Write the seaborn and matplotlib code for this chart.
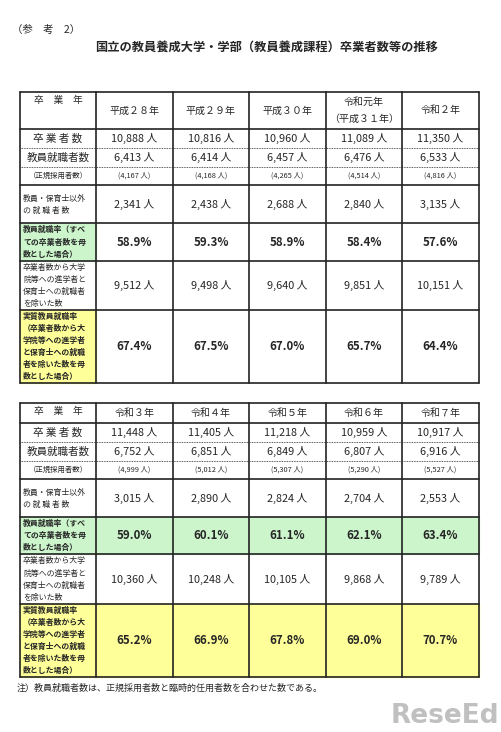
import matplotlib
matplotlib.use("Agg")
import matplotlib.pyplot as plt
import seaborn as sns
from matplotlib.patches import Rectangle

sns.set_theme(style="white")
plt.rcParams['font.family'] = ['Noto Sans CJK JP', 'DejaVu Sans']

years1 = ["平成２８年", "平成２９年", "平成３０年", "令和元年\n（平成３１年）", "令和２年"]
grads1 = ["10,888 人", "10,816 人", "10,960 人", "11,089 人", "11,350 人"]
teach1 = ["6,413 人", "6,414 人", "6,457 人", "6,476 人", "6,533 人"]
regular1 = ["(4,167 人)", "(4,168 人)", "(4,265 人)", "(4,514 人)", "(4,816 人)"]
other1 = ["2,341 人", "2,438 人", "2,688 人", "2,840 人", "3,135 人"]
rate1 = ["58.9%", "59.3%", "58.9%", "58.4%", "57.6%"]
base1 = ["9,512 人", "9,498 人", "9,640 人", "9,851 人", "10,151 人"]
real1 = ["67.4%", "67.5%", "67.0%", "65.7%", "64.4%"]

years2 = ["令和３年", "令和４年", "令和５年", "令和６年", "令和７年"]
grads2 = ["11,448 人", "11,405 人", "11,218 人", "10,959 人", "10,917 人"]
teach2 = ["6,752 人", "6,851 人", "6,849 人", "6,807 人", "6,916 人"]
regular2 = ["(4,999 人)", "(5,012 人)", "(5,307 人)", "(5,290 人)", "(5,527 人)"]
other2 = ["3,015 人", "2,890 人", "2,824 人", "2,704 人", "2,553 人"]
rate2 = ["59.0%", "60.1%", "61.1%", "62.1%", "63.4%"]
base2 = ["10,360 人", "10,248 人", "10,105 人", "9,868 人", "9,789 人"]
real2 = ["65.2%", "66.9%", "67.8%", "69.0%", "70.7%"]

labels = ["卒　業　年", "卒 業 者 数", "教員就職者数", "（正規採用者数）",
          "教員・保育士以外\nの 就 職 者 数", "教員就職率（すべ\nての卒業者数を母\n数とした場合）",
          "卒業者数から大学\n院等への進学者と\n保育士への就職者\nを除いた数",
          "実質教員就職率\n（卒業者数から大\n学院等への進学者\nと保育士への就職\n者を除いた数を母\n数とした場合）"]

GREEN = "#ccf5cc"
YELLOW = "#ffff99"

fig = plt.figure(figsize=(5.01, 7.32), dpi=100)
ax = fig.add_axes([0, 0, 1, 1])
ax.set_xlim(0, 501)
ax.set_ylim(732, 0)
ax.axis("off")

xs = [20, 96, 173, 249, 326, 402, 479]

def draw_table(ys, cols, bg_vals):
    ax.add_patch(Rectangle((xs[0], ys[5]), xs[1]-xs[0], ys[6]-ys[5], color=GREEN, zorder=0))
    ax.add_patch(Rectangle((xs[0], ys[7]), xs[1]-xs[0], ys[8]-ys[7], color=YELLOW, zorder=0))
    if bg_vals:
        ax.add_patch(Rectangle((xs[1], ys[5]), xs[6]-xs[1], ys[6]-ys[5], color=GREEN, zorder=0))
        ax.add_patch(Rectangle((xs[1], ys[7]), xs[6]-xs[1], ys[8]-ys[7], color=YELLOW, zorder=0))
    for i, y in enumerate(ys):
        dotted = i in (2, 3)
        ax.plot([xs[0], xs[-1]], [y, y], color="#222", lw=0.6 if dotted else 1.2,
                ls=(0, (1, 1)) if dotted else "-", zorder=2)
    for x in xs:
        ax.plot([x, x], [ys[0], ys[-1]], color="#222", lw=1.2, zorder=2)
    for r, lab in enumerate(labels):
        yc = (ys[r] + ys[r+1]) / 2
        bold = r in (5, 7)
        if r == 0:
            ax.text((xs[0]+xs[1])/2, ys[0]+3, lab, fontsize=7, va="top", ha="center")
            continue
        fs = {1: 7.6, 2: 7.6, 3: 5.3}.get(r, 5.7)
        ha = "center" if r in (1, 2, 3) else "left"
        xx = (xs[0]+xs[1])/2 if ha == "center" else xs[0]+3
        ax.text(xx, yc, lab, fontsize=fs, va="center", ha=ha,
                fontweight="bold" if bold else "normal", linespacing=1.45)
    for r, vals in enumerate(cols):
        yc = (ys[r] + ys[r+1]) / 2
        for c, v in enumerate(vals):
            xc = (xs[c+1] + xs[c+2]) / 2
            bold = r in (5, 7)
            fs = {0: 7.2, 3: 5.3}.get(r, 8.3 if bold else 7.8)
            ax.text(xc, yc, v, fontsize=fs, va="center", ha="center",
                    fontweight="bold" if bold else "normal", linespacing=1.8)

ax.text(12, 30, "（参　考　2）", fontsize=7.5, va="center", ha="left")
ax.text(267, 47, "国立の教員養成大学・学部（教員養成課程）卒業者数等の推移", fontsize=8.8,
        fontweight="bold", va="center", ha="center")

draw_table([92, 129, 148, 167, 185, 223, 261, 310, 383],
           [years1, grads1, teach1, regular1, other1, rate1, base1, real1], False)
draw_table([403, 423, 442, 461, 479, 517, 554, 604, 677],
           [years2, grads2, teach2, regular2, other2, rate2, base2, real2], True)

ax.text(17, 688, "注）教員就職者数は、正規採用者数と臨時的任用者数を合わせた数である。",
        fontsize=6.5, va="center", ha="left")
ax.text(499, 716, "ReseEd", fontsize=19, fontweight="bold", color="#c0c0c0",
        va="center", ha="right", family=["DejaVu Sans"])

fig.savefig("out.png", dpi=100)
